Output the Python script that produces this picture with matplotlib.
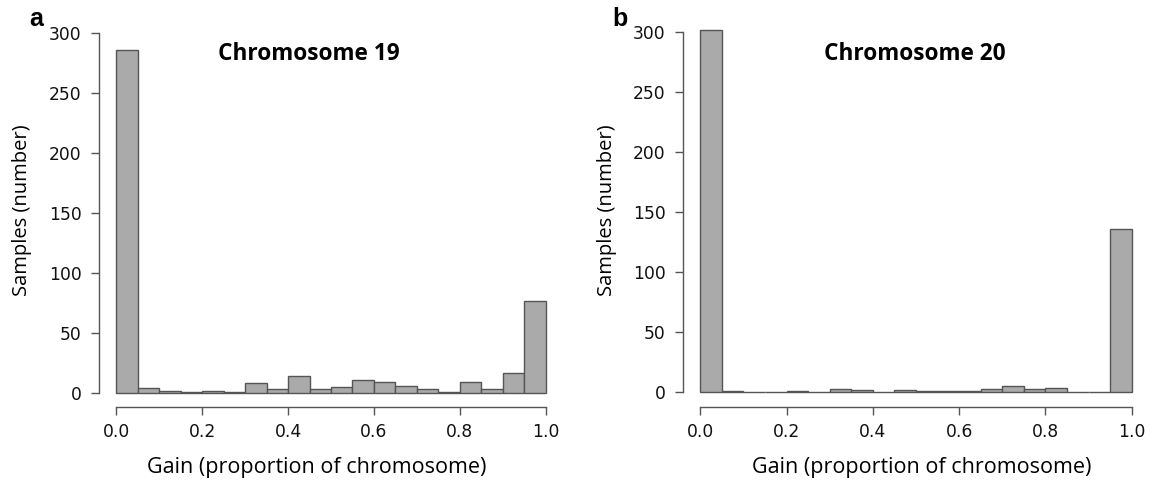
import numpy as np
import matplotlib
matplotlib.use("Agg")
import matplotlib.pyplot as plt

bin_edges = [round(0.05 * i, 2) for i in range(21)]
chr19_counts = [286, 4, 2, 1, 2, 1, 8, 3, 14, 3, 5, 11, 9, 6, 3, 1, 9, 3, 17, 77]
chr20_counts = [302, 1, 0, 0, 1, 0, 3, 2, 0, 2, 1, 1, 1, 3, 5, 3, 4, 0, 0, 136]
x_ticks = [0.0, 0.2, 0.4, 0.6, 0.8, 1.0]
y_ticks = [0, 50, 100, 150, 200, 250, 300]
titles = ["Chromosome 19", "Chromosome 20"]
letters = ["a", "b"]
xlabel = "Gain (proportion of chromosome)"
ylabel = "Samples (number)"

W, H = 1155, 490
fig = plt.figure(figsize=(W / 100, H / 100), dpi=100)

def ax_rect(l, r, t, b):
    return [l / W, 1 - b / H, (r - l) / W, (b - t) / H]

panels = [
    dict(rect=ax_rect(99, 563, 18.6, 407.4), ylim=(-12, 312), counts=chr19_counts,
         title_x=309, ylab_x=22, xlab_x=317, letter_x=36),
    dict(rect=ax_rect(683, 1149, 15.1, 407.0), ylim=(-12.1, 314.5), counts=chr20_counts,
         title_x=915, ylab_x=607, xlab_x=922, letter_x=620),
]

label_font = ["Open Sans", "DejaVu Sans"]
tick_font = ["DejaVu Sans"]
spine_col = "#555555"

for i, p in enumerate(panels):
    ax = fig.add_axes(p["rect"])
    lefts = bin_edges[:-1]
    ax.bar(lefts, p["counts"], width=0.05, align="edge", color="#aaaaaa",
           edgecolor="#555555", linewidth=1.0)
    ax.set_xlim(-0.04, 1.04)
    ax.set_ylim(*p["ylim"])
    for s in ["top", "right"]:
        ax.spines[s].set_visible(False)
    ax.spines["left"].set_bounds(0, 300)
    ax.spines["bottom"].set_bounds(0, 1)
    for s in ["left", "bottom"]:
        ax.spines[s].set_color(spine_col)
        ax.spines[s].set_linewidth(1.0)
    ax.set_xticks(x_ticks)
    ax.set_xticklabels([f"{v:.1f}" for v in x_ticks], fontfamily=tick_font)
    ax.set_yticks(y_ticks)
    ax.set_yticklabels([str(v) for v in y_ticks], fontfamily=tick_font)
    ax.tick_params(axis="both", direction="out", length=5.5, width=1.0,
                   color=spine_col, labelsize=12.3, labelcolor="#111111")
    ax.tick_params(axis="x", pad=6)
    ax.tick_params(axis="y", pad=7)

    fig.text(p["title_x"] / W, 1 - 54 / H, titles[i], ha="center", va="center",
             fontsize=16.3, fontweight="bold", fontfamily=label_font)
    fig.text(p["letter_x"] / W, 1 - 26 / H, letters[i], ha="center", va="baseline",
             fontsize=18, fontweight="bold", fontfamily=["Liberation Sans", "DejaVu Sans"])
    fig.text(p["ylab_x"] / W, 1 - 210 / H, ylabel, ha="center", va="center",
             rotation=90, fontsize=14.5, fontfamily=label_font)
    fig.text(p["xlab_x"] / W, 1 - 467 / H, xlabel, ha="center", va="center",
             fontsize=15.5, fontfamily=label_font)

fig.savefig("out.png", dpi=100)
